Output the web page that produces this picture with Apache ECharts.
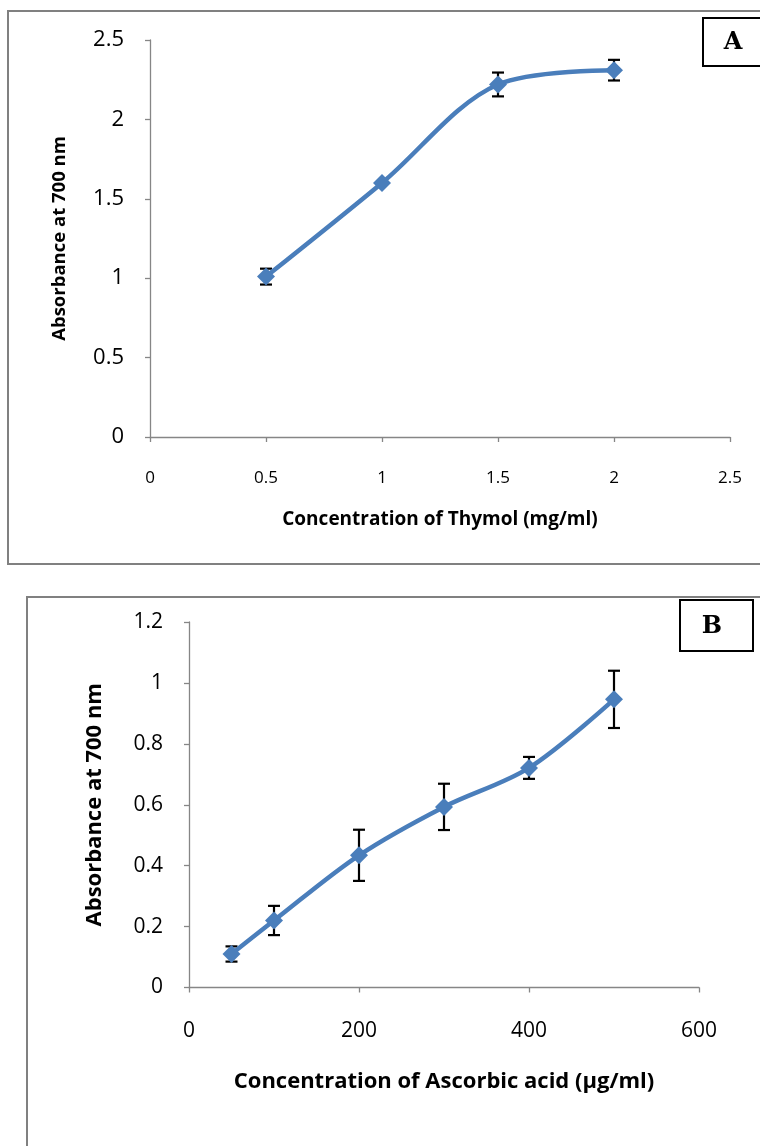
<!DOCTYPE html>
<html>
<head>
<meta charset="utf-8">
<script src="https://cdn.jsdelivr.net/npm/echarts@6/dist/echarts.min.js"></script>
<style>
html,body{margin:0;padding:0;background:#fff;}
#c{width:760px;height:1146px;}
</style>
</head>
<body>
<div id="c"></div>
<script>
// ---- Data ----
const thymolConc = [0.5, 1, 1.5, 2];
const thymolAbs = [1.01, 1.60, 2.22, 2.31];
const thymolErr = [0.05, 0.01, 0.075, 0.065];

const ascConc = [50, 100, 200, 300, 400, 500];
const ascAbs = [0.11, 0.22, 0.434, 0.593, 0.721, 0.946];
const ascErr = [0.025, 0.048, 0.084, 0.076, 0.036, 0.094];

const titleA_x = 'Concentration of Thymol (mg/ml)';
const titleB_x = 'Concentration of Ascorbic acid (µg/ml)';
const titleY = 'Absorbance at 700 nm';

const FONT = '"Liberation Sans Narrow", "Open Sans", sans-serif';
const BLUE = '#4a7ebb';
const AXC = '#868686';

function pts(xs, ys) { return xs.map((x, i) => [x, ys[i]]); }
function errData(xs, ys, es) { return xs.map((x, i) => [x, ys[i] - es[i], ys[i] + es[i]]); }

function errSeries(idx, data, cap) {
  return {
    type: 'custom', xAxisIndex: idx, yAxisIndex: idx, z: 1,
    data: data,
    renderItem: function (params, api) {
      const x = api.value(0);
      const lo = api.coord([x, api.value(1)]);
      const hi = api.coord([x, api.value(2)]);
      const st = { stroke: '#000', lineWidth: 2.2 };
      return {
        type: 'group', children: [
          { type: 'line', shape: { x1: lo[0], y1: lo[1], x2: hi[0], y2: hi[1] }, style: st },
          { type: 'line', shape: { x1: lo[0] - cap, y1: lo[1], x2: lo[0] + cap, y2: lo[1] }, style: st },
          { type: 'line', shape: { x1: hi[0] - cap, y1: hi[1], x2: hi[0] + cap, y2: hi[1] }, style: st }
        ]
      };
    }
  };
}

const axisLine = { show: true, lineStyle: { color: AXC, width: 1.3 } };
const axisTick = { show: true, length: 5, lineStyle: { color: AXC, width: 1.3 } };

const chart = echarts.init(document.getElementById('c'), null, { renderer: 'canvas' });
chart.setOption({
  animation: false,
  backgroundColor: '#fff',
  grid: [
    { left: 150, top: 40, right: 30, bottom: 709 },
    { left: 189, top: 622, right: 61, bottom: 158.5 }
  ],
  xAxis: [
    {
      gridIndex: 0, type: 'value', min: 0, max: 2.5, interval: 0.5,
      axisLine: axisLine, axisTick: axisTick, splitLine: { show: false },
      axisLabel: { margin: 33, fontSize: 17, color: '#000', fontFamily: FONT },
      name: titleA_x, nameLocation: 'middle', nameGap: 73,
      nameTextStyle: { fontSize: 19, fontWeight: 'bold', color: '#000', fontFamily: FONT }
    },
    {
      gridIndex: 1, type: 'value', min: 0, max: 600, interval: 200,
      axisLine: axisLine, axisTick: axisTick, splitLine: { show: false },
      axisLabel: { margin: 33, fontSize: 21, color: '#000', fontFamily: FONT },
      name: titleB_x, nameLocation: 'middle', nameGap: 83,
      nameTextStyle: { fontSize: 22, fontWeight: 'bold', color: '#000', fontFamily: FONT }
    }
  ],
  yAxis: [
    {
      gridIndex: 0, type: 'value', min: 0, max: 2.5, interval: 0.5,
      axisLine: axisLine, axisTick: axisTick, splitLine: { show: false },
      axisLabel: { margin: 26, fontSize: 22, color: '#000', fontFamily: FONT },
      name: titleY, nameLocation: 'middle', nameGap: 81, nameRotate: 90,
      nameTextStyle: { fontSize: 18.5, fontWeight: 'bold', color: '#000', fontFamily: FONT }
    },
    {
      gridIndex: 1, type: 'value', min: 0, max: 1.2, interval: 0.2,
      axisLine: axisLine, axisTick: axisTick, splitLine: { show: false },
      axisLabel: { margin: 26, fontSize: 21, color: '#000', fontFamily: FONT },
      name: titleY, nameLocation: 'middle', nameGap: 83, nameRotate: 90,
      nameTextStyle: { fontSize: 22, fontWeight: 'bold', color: '#000', fontFamily: FONT }
    }
  ],
  series: [
    errSeries(0, errData(thymolConc, thymolAbs, thymolErr), 6),
    {
      type: 'line', xAxisIndex: 0, yAxisIndex: 0, z: 3, smooth: 0.33,
      data: pts(thymolConc, thymolAbs),
      symbol: 'diamond', symbolSize: 18,
      lineStyle: { color: BLUE, width: 4.5 },
      itemStyle: { color: BLUE }
    },
    errSeries(1, errData(ascConc, ascAbs, ascErr), 6),
    {
      type: 'line', xAxisIndex: 1, yAxisIndex: 1, z: 3, smooth: 0.33,
      data: pts(ascConc, ascAbs),
      symbol: 'diamond', symbolSize: 18,
      lineStyle: { color: BLUE, width: 4.5 },
      itemStyle: { color: BLUE }
    }
  ],
  graphic: [
    { type: 'rect', z: -10, shape: { x: 8, y: 11, width: 770, height: 553 }, style: { fill: 'none', stroke: '#808080', lineWidth: 2 } },
    { type: 'rect', z: -10, shape: { x: 27, y: 597, width: 760, height: 580 }, style: { fill: 'none', stroke: '#808080', lineWidth: 2 } },
    { type: 'rect', z: 10, shape: { x: 703, y: 18, width: 80, height: 48 }, style: { fill: '#fff', stroke: '#000', lineWidth: 2 } },
    { type: 'text', z: 11, x: 733, y: 43, style: { text: 'A', font: 'bold 24px "DejaVu Serif", serif', fill: '#000', textAlign: 'center', textVerticalAlign: 'middle' } },
    { type: 'rect', z: 10, shape: { x: 680, y: 600, width: 73, height: 51 }, style: { fill: '#fff', stroke: '#000', lineWidth: 2 } },
    { type: 'text', z: 11, x: 712, y: 627, style: { text: 'B', font: 'bold 24px "DejaVu Serif", serif', fill: '#000', textAlign: 'center', textVerticalAlign: 'middle' } }
  ]
});
</script>
</body>
</html>
